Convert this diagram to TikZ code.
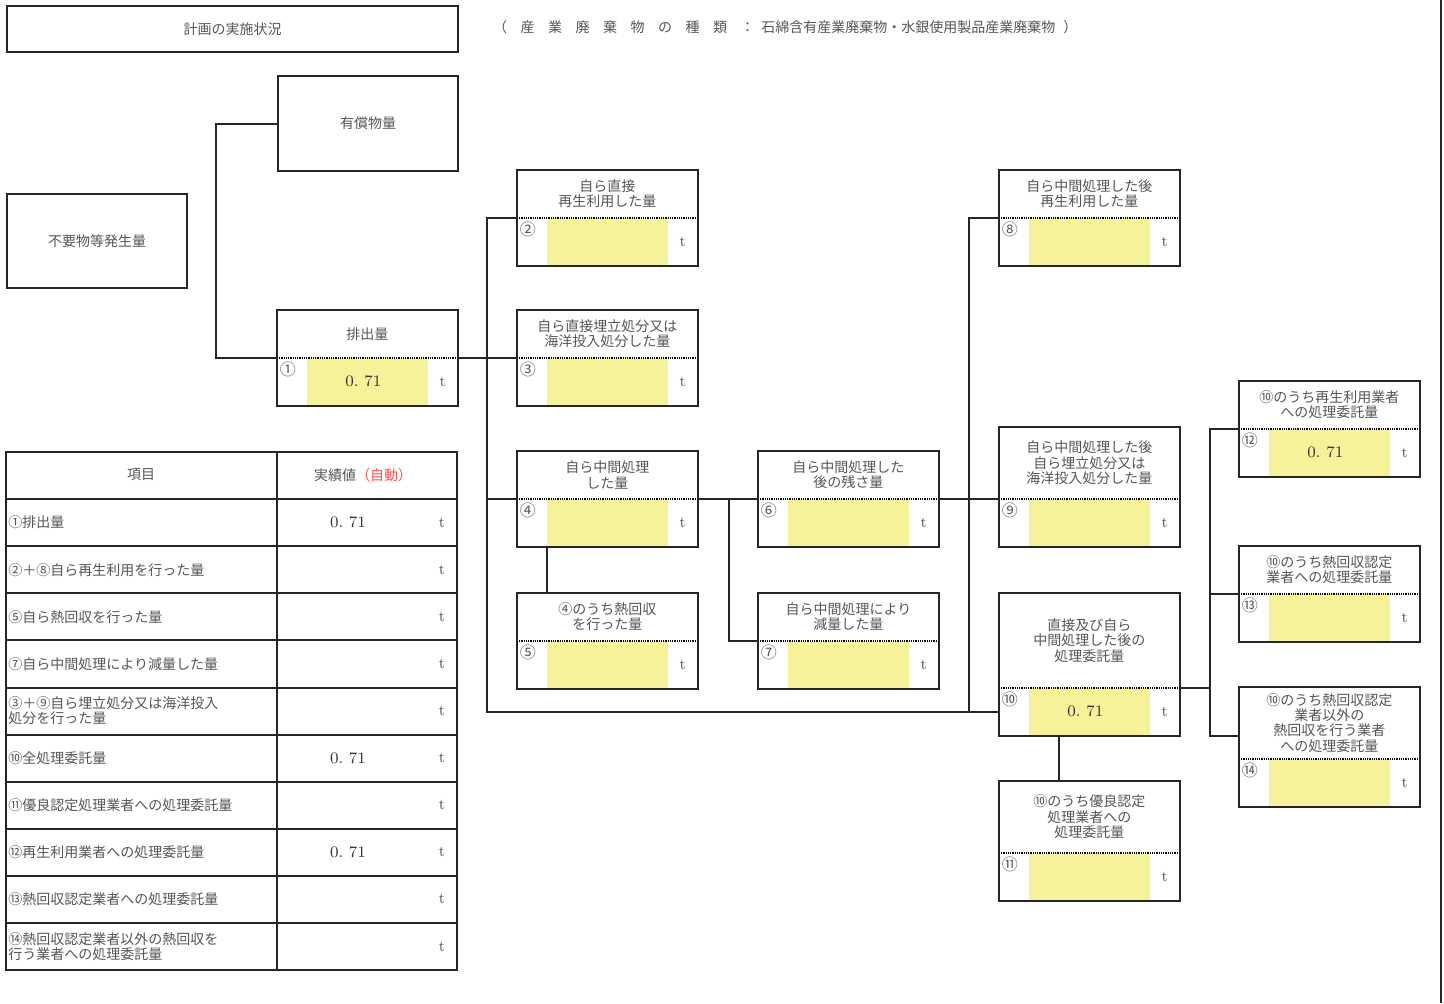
\documentclass[tikz,border=0pt]{standalone}
\usepackage{fontspec}
\usepackage{tikz}
\usetikzlibrary{calc,positioning}
\newfontfamily\jp{Noto Sans CJK JP}
\definecolor{txtgray}{HTML}{555555}
\definecolor{boxyellow}{HTML}{F5F29A}
\definecolor{autored}{HTML}{FF4A4A}
\tikzstyle{boxline}=[line width=1pt, draw=black!85]
\tikzstyle{link}   =[line width=1pt, draw=black!85]
\tikzstyle{dotsep} =[line width=0.8pt, dash pattern=on 0.45pt off 0.45pt]
\tikzstyle{head}   =[anchor=north west, minimum width=90pt, inner sep=0pt,
                     align=center, text=txtgray,
                     font=\jp\fontsize{7}{7.7}\selectfont]
\tikzstyle{plainbox}=[head, boxline, draw]
\tikzstyle{val}    =[anchor=north west, minimum width=90pt,
                     minimum height=23.5pt, inner sep=0pt,
                     path picture={\fill[boxyellow]
                       ([xshift=15pt]path picture bounding box.north west) rectangle
                       ([xshift=-14.5pt]path picture bounding box.south east);}]
\tikzstyle{num}    =[anchor=north west, inner sep=0pt, text=txtgray,
                     font=\jp\fontsize{8}{8}\selectfont]
\tikzstyle{amount} =[inner sep=0pt, text=black!80, font=\fontsize{8}{9}\selectfont]
\tikzstyle{unit}   =[inner sep=0pt, text=txtgray, font=\fontsize{7.5}{8}\selectfont]
\tikzstyle{rowtext}=[anchor=west, inner sep=0pt, align=left, text=txtgray,
                     font=\jp\fontsize{7}{7.5}\selectfont]
\newcommand{\kbox}[1]{\makebox[13.75pt]{#1}}
% name, x, y, title height, title, number, value
\newcommand{\qtybox}[7]{%
  \node[head, minimum height=#4] (#1) at (#2,#3) {#5};
  \node[val] (#1v) at (#1.south west) {};
  \node[num] (#1n) at ([xshift=1.2pt,yshift=-2pt]#1v.north west) {#6};
  \node[amount] (#1a) at ([xshift=-2pt]#1v.center) {#7};
  \node[unit] (#1u) at ([xshift=-7.5pt]#1v.east) {t};
  \draw[dotsep] (#1.south west) -- (#1.south east);
  \draw[boxline] (#1.north west) rectangle (#1v.south east);
}
\begin{document}
\begin{tikzpicture}[x=0.5pt, y=-0.5pt]
  \useasboundingbox (0,0) rectangle (1444,1003);

  % heading
  \node[plainbox, minimum width=225.5pt, minimum height=23pt] (plan) at (6,5) {計画の実施状況};
  \node[rowtext] (kind) at (486,27) {\kbox{（}\kbox{産}\kbox{業}\kbox{廃}\kbox{棄}\kbox{物}\kbox{の}\kbox{種}\kbox{類}\kbox{：}石綿含有産業廃棄物・水銀使用製品産業廃棄物\hspace{4pt}）};
  \draw[boxline] (1441,0) -- (1441,1003);

  % flow boxes
  \node[plainbox, minimum height=47.5pt] (yuu) at (277,75) {有償物量};
  \node[plainbox, minimum height=47pt] (fuyo) at (6,193) {不要物等発生量};
  \qtybox{p1}{277}{310}{23.5pt}{排出量}{①}{0.\ 71}
  \qtybox{p2}{517}{170}{23.5pt}{自ら直接\\再生利用した量}{②}{}
  \qtybox{p3}{517}{310}{23.5pt}{自ら直接埋立処分又は\\海洋投入処分した量}{③}{}
  \qtybox{p4}{517}{451}{23.5pt}{自ら中間処理\\した量}{④}{}
  \qtybox{p5}{517}{593}{23.5pt}{④のうち熱回収\\を行った量}{⑤}{}
  \qtybox{p6}{758}{451}{23.5pt}{自ら中間処理した\\後の残さ量}{⑥}{}
  \qtybox{p7}{758}{593}{23.5pt}{自ら中間処理により\\減量した量}{⑦}{}
  \qtybox{p8}{999}{170}{23.5pt}{自ら中間処理した後\\再生利用した量}{⑧}{}
  \qtybox{p9}{999}{427}{35.5pt}{自ら中間処理した後\\自ら埋立処分又は\\海洋投入処分した量}{⑨}{}
  \qtybox{p10}{999}{593}{47pt}{直接及び自ら\\中間処理した後の\\処理委託量}{⑩}{0.\ 71}
  \qtybox{p11}{999}{781}{35.5pt}{⑩のうち優良認定\\処理業者への\\処理委託量}{⑪}{}
  \qtybox{p12}{1239}{381}{23.5pt}{⑩のうち再生利用業者\\への処理委託量}{⑫}{0.\ 71}
  \qtybox{p13}{1239}{546}{23.5pt}{⑩のうち熱回収認定\\業者への処理委託量}{⑬}{}
  \qtybox{p14}{1239}{687}{35.5pt}{⑩のうち熱回収認定\\業者以外の\\熱回収を行う業者\\への処理委託量}{⑭}{}

  % connectors
  \coordinate (s1) at ([xshift=-256pt]p10v.west);
  \coordinate (s2) at ([xshift=15.5pt]p4.south east);
  \coordinate (s3) at ([xshift=-15pt]p10v.west);
  \coordinate (s4) at ([xshift=15pt]p10.south east);
  \draw[link] (yuu.west) -- ++(-61,0) |- (p1.south west);
  \draw[link] (p1.south east) -- (p3.south west);
  \draw[link] (p2.south west) -| (s1) -- (p10v.west);
  \draw[link] (p4.south west) -- (p4.south west -| s1);
  \draw[link] ([xshift=15pt]p4v.south west) -- ([xshift=15pt]p5.north west);
  \draw[link] (p4.south east) -- (p6.south west);
  \draw[link] (s2) |- (p7.south west);
  \draw[link] (p6.south east) -- (p9.south west);
  \draw[link] (p8.south west) -| (s3);
  \draw[link] (p10.south east) -- (s4);
  \draw[link] (p12.south west) -| (s4 |- p10v.south) -- (p10v.south -| p14.west);
  \draw[link] (p13.south west) -- (p13.south west -| s4);
  \draw[link] ([xshift=30pt]p10v.south west) -- ([xshift=30pt]p11.north west);

  % summary table
  \draw[boxline] (6,452) rectangle (457,970);
  \draw[boxline] (277,452) -- (277,970);
  \foreach \i in {1,...,10}
    \draw[boxline] (6,{452+47.1*\i}) -- (457,{452+47.1*\i});
  \node[rowtext, anchor=center] (h1) at (141,475) {項目};
  \node[rowtext, anchor=center] (h2) at (363,475) {実績値{\color{autored}（自動）}};
  \foreach \txt/\amt [count=\i] in {
      {①排出量}/{0.\ 71},
      {②＋⑧自ら再生利用を行った量}/{},
      {⑤自ら熱回収を行った量}/{},
      {⑦自ら中間処理により減量した量}/{},
      {③＋⑨自ら埋立処分又は海洋投入\\処分を行った量}/{},
      {⑩全処理委託量}/{0.\ 71},
      {⑪優良認定処理業者への処理委託量}/{},
      {⑫再生利用業者への処理委託量}/{0.\ 71},
      {⑬熱回収認定業者への処理委託量}/{},
      {⑭熱回収認定業者以外の熱回収を\\行う業者への処理委託量}/{}}{
    \node[rowtext] (r\i) at (8,{452+47.1*\i+23.5}) {\txt};
    \node[amount] (v\i) at (348,{452+47.1*\i+23.5}) {\amt};
    \node[unit] (u\i) at (442,{452+47.1*\i+23.5}) {t};
  }
\end{tikzpicture}
\end{document}
